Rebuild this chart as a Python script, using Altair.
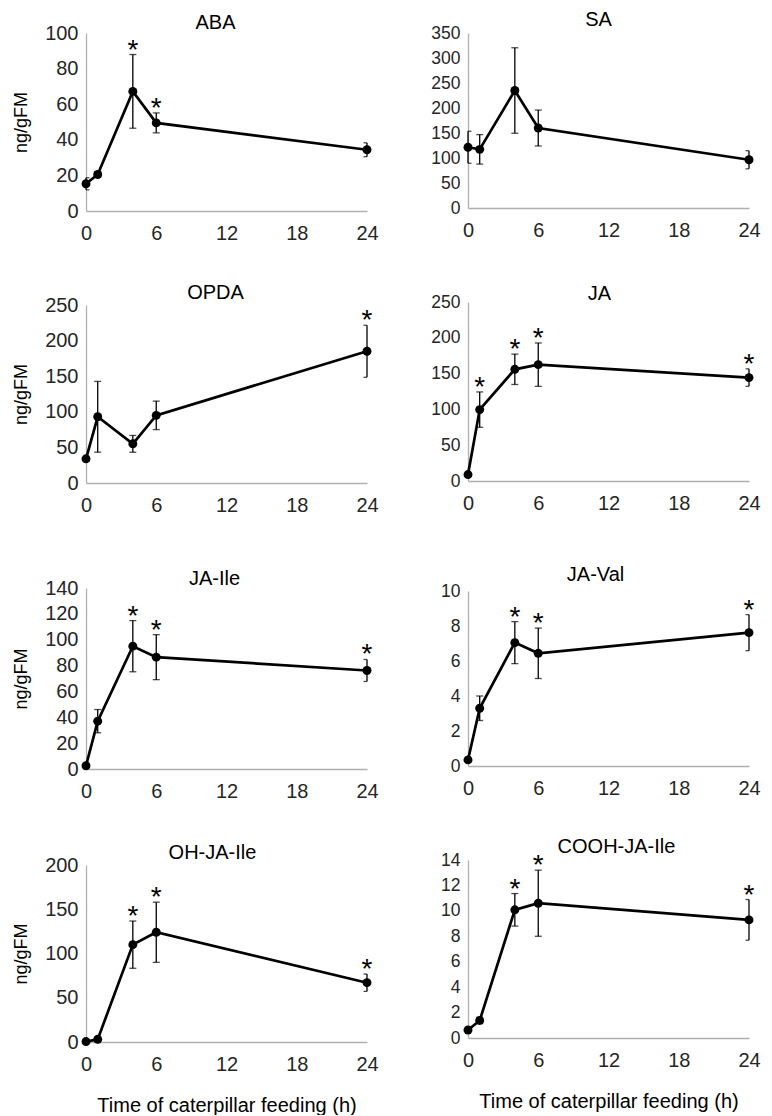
import altair as alt
import pandas as pd

# ---- data ----
times = [0, 1, 4, 6, 24]

aba_mean = [15.3, 20.5, 67.2, 49.5, 34.4]
aba_se = [3.4, 1.5, 20.7, 5.6, 3.9]
aba_star = [4, 6]

sa_mean = [121.5, 117.3, 235.0, 160.0, 96.5]
sa_se = [32.0, 29.5, 85.5, 35.9, 18.1]
sa_star = []

opda_mean = [34.0, 93.0, 55.0, 95.0, 185.0]
opda_se = [3.0, 49.7, 11.8, 20.0, 36.5]
opda_star = [24]

ja_mean = [9.0, 99.7, 156.0, 162.5, 144.4]
ja_se = [2.0, 24.7, 21.2, 30.3, 12.2]
ja_star = [1, 4, 6, 24]

jaile_mean = [2.5, 37.0, 95.0, 86.5, 76.2]
jaile_se = [1.0, 9.0, 19.8, 17.4, 8.5]
jaile_star = [4, 6, 24]

javal_mean = [0.35, 3.3, 7.05, 6.44, 7.62]
javal_se = [0.1, 0.7, 1.2, 1.44, 1.03]
javal_star = [4, 6, 24]

ohjaile_mean = [0.5, 3.0, 110.0, 124.0, 67.0]
ohjaile_se = [0.3, 0.8, 26.7, 34.0, 9.8]
ohjaile_star = [4, 6, 24]

coohjaile_mean = [0.63, 1.38, 10.08, 10.6, 9.29]
coohjaile_se = [0.1, 0.25, 1.28, 2.6, 1.6]
coohjaile_star = [4, 6, 24]

x_ticks = [0, 6, 12, 18, 24]
y_label = "ng/gFM"
x_label = "Time of caterpillar feeding (h)"

FONT = "Liberation Sans"
W = 281


def panel(name, mean, se, stars, ymax, ystep, h, tdy, tdx, xext, left, bottom):
    df = pd.DataFrame({
        "t": times,
        "m": mean,
        "lo": [m - s for m, s in zip(mean, se)],
        "hi": [m + s for m, s in zip(mean, se)],
        "star": [1 if t in stars else 0 for t in times],
    })
    xaxis = alt.Axis(values=x_ticks, title=x_label if bottom else None,
                     labelPadding=12, labelFlush=False, minExtent=xext, maxExtent=200,
                     titlePadding=21, titleFontSize=20)
    yaxis = alt.Axis(values=list(range(0, ymax + 1, ystep)),
                     title=y_label if left else None,
                     labelFlush=False, labelFontSize=20 if left else 17.5,
                     labelPadding=8, minExtent=46, maxExtent=46,
                     titlePadding=10, titleFontSize=18)
    xs = alt.Scale(domain=[0, 24], nice=False, zero=False)
    ys = alt.Scale(domain=[0, ymax], nice=False)
    X = alt.X("t:Q", scale=xs, axis=xaxis)
    base = alt.Chart(df)
    bars = base.mark_rule(color="black", strokeWidth=1.3).encode(
        x=X, y=alt.Y("lo:Q", scale=ys, axis=yaxis), y2="hi:Q")
    caps = base.transform_fold(["lo", "hi"], as_=["k", "v"]).mark_tick(
        orient="horizontal", size=7, thickness=1.3, color="black", clip=True
    ).encode(x=X, y=alt.Y("v:Q", scale=ys, axis=yaxis))
    line = base.mark_line(color="black", strokeWidth=2.7).encode(
        x=X, y=alt.Y("m:Q", scale=ys, axis=yaxis))
    pts = base.mark_circle(color="black", size=80, opacity=1).encode(
        x=X, y=alt.Y("m:Q", scale=ys, axis=yaxis))
    st = base.transform_filter("datum.star == 1").mark_text(
        text="*", fontSize=28, font=FONT, color="black",
        baseline="alphabetic", align="center", dy=4
    ).encode(x=X, y=alt.Y("hi:Q", scale=ys, axis=yaxis))
    ttl = alt.Chart(pd.DataFrame({"name": [name]})).mark_text(
        fontSize=20, font=FONT, color="black", baseline="middle", align="center"
    ).encode(text="name:N", x=alt.value(W / 2 + tdx), y=alt.value(-tdy))
    return alt.layer(bars, caps, line, pts, st, ttl).properties(width=W, height=h)


left = alt.vconcat(
    panel("ABA", aba_mean, aba_se, aba_star, 100, 20, 178, 10, -11, 72, True, False),
    panel("OPDA", opda_mean, opda_se, opda_star, 250, 50, 178, 12, -11, 86, True, False),
    panel("JA-Ile", jaile_mean, jaile_se, jaile_star, 140, 20, 181, 9, -12, 73, True, False),
    panel("OH-JA-Ile", ohjaile_mean, ohjaile_se, ohjaile_star, 200, 50, 177, 12.5, -14, 32, True, True),
    spacing=0,
)
right = alt.vconcat(
    panel("SA", sa_mean, sa_se, sa_star, 350, 50, 175, 13, -10, 76, False, False),
    panel("JA", ja_mean, ja_se, ja_star, 250, 50, 179, 8, -9, 84, False, False),
    panel("JA-Val", javal_mean, javal_se, javal_star, 10, 2, 175, 16, -13, 70, False, False),
    panel("COOH-JA-Ile", coohjaile_mean, coohjaile_se, coohjaile_star, 14, 2, 178, 13.5, 8, 32, False, True),
    spacing=0,
)

chart = alt.hconcat(left, right, spacing=43).properties(
    padding={"left": 4, "top": 2, "right": 0, "bottom": 0}
).configure_view(stroke=None).configure_axis(
    labelFont=FONT, titleFont=FONT, labelFontSize=20, labelColor="#262626",
    titleColor="black", titleFontWeight="normal",
    domainColor="#b0b0b0", domainWidth=1.3, ticks=False, tickSize=0, grid=False,
)

chart.save("out.html", embed_options={"renderer": "svg", "actions": False})
